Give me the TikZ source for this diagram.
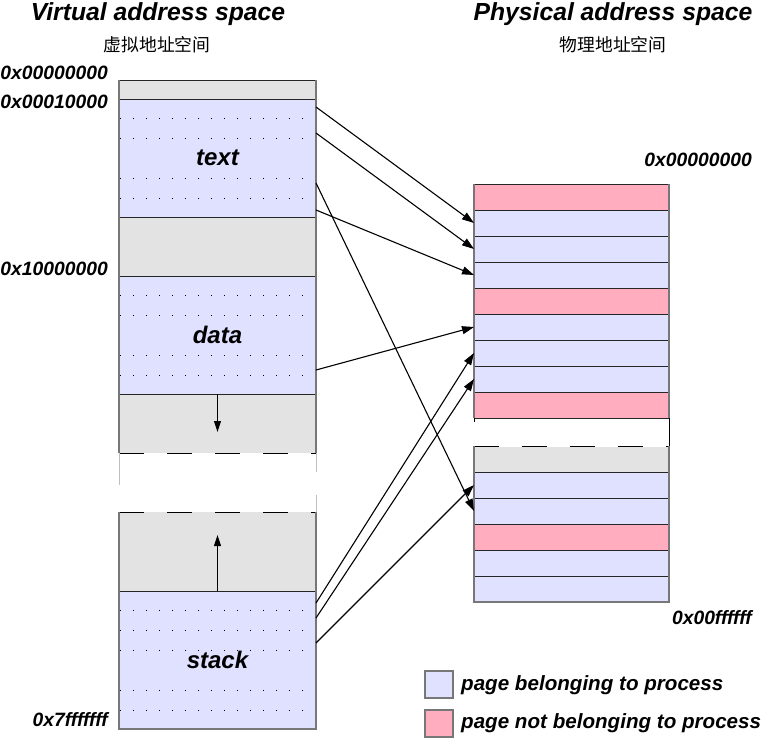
\documentclass[tikz,border=0pt]{standalone}
\usepackage{fontspec}
\setmainfont{Liberation Sans}
\newfontfamily\cjk{Noto Sans CJK SC}
\usetikzlibrary{arrows.meta}
\definecolor{pageown}{HTML}{E0E0FF}
\definecolor{pagenot}{HTML}{FFADBF}
\definecolor{unmapped}{HTML}{E3E3E3}
\definecolor{rim}{HTML}{777777}

\begin{document}
\begin{tikzpicture}[x=1pt, y=-1pt,
  seg/.style={minimum width=197pt, inner sep=0pt, outer sep=0pt, font=\fontsize{24}{28}\selectfont\bfseries\itshape},
  segline/.style={draw=black!85, line width=0.9pt},
  prow/.style={minimum width=195pt, minimum height=26pt, inner sep=0pt, outer sep=0pt, draw=black!85, line width=0.9pt},
  addr/.style={font=\fontsize{19.3}{22}\selectfont\bfseries\itshape, inner sep=0pt},
  heading/.style={font=\fontsize{24.7}{28}\selectfont\bfseries\itshape, inner sep=0pt},
  subheading/.style={font=\fontsize{17.8}{20}\selectfont\cjk, inner sep=0pt},
  keybox/.style={minimum width=28pt, minimum height=27pt, inner sep=0pt, draw=rim, line width=1.2pt},
  keytext/.style={font=\fontsize{20.6}{24}\selectfont\bfseries\itshape, inner sep=0pt, anchor=west},
  map/.style={-{Triangle[length=12pt,width=8pt]}, line width=1.1pt},
  growarrow/.style={-{Triangle[length=11pt,width=7pt]}, line width=1.1pt},
  brk/.style={line width=1pt, dash pattern=on 25pt off 23pt}
]
\useasboundingbox (0,0) rectangle (762,739);

% headings
\node[heading] (vtitle) at (158,14) {Virtual address space};
\node[subheading] (vsub) at (157,45) {虚拟地址空间};
\node[heading] (ptitle) at (613,14) {Physical address space};
\node[subheading] (psub) at (613,45) {物理地址空间};

% virtual address space
\node[seg, fill=unmapped, minimum height=59pt] (vheap) at (217.5,423.5) {};
\node[seg, fill=unmapped, minimum height=79pt] (vfree) at (217.5,551.5) {};
\node[seg, segline, fill=unmapped, minimum height=19pt] (vnull) at (217.5,89.5) {};
\node[seg, segline, fill=pageown, minimum height=118pt] (vtext) at (217.5,158) {text};
\node[seg, segline, fill=unmapped, minimum height=59pt] (vhole) at (217.5,246.5) {};
\node[seg, segline, fill=pageown, minimum height=118pt] (vdata) at (217.5,335) {data};
\node[seg, segline, fill=pageown, minimum height=138pt] (vstack) at (217.5,660) {stack};

\foreach \top/\rows in {99/{19,39,79,99}, 276/{19,39,79,99}, 591/{19,39,59,99,119}}
  \foreach \r in \rows
    \foreach \k in {0,...,15}
      \fill ({119.5+13*\k},{\top+\r-0.5}) rectangle ++(1.1,1.1);

\draw[brk] (vheap.south west) -- (vheap.south east);
\draw[brk] (vfree.north west) -- (vfree.north east);
\draw[black!25] (vheap.south west) -- ++(0,32);
\draw[black!25] (vheap.south east) -- ++(0,19);
\draw[black!25] (vfree.north east) -- ++(0,-17);
\draw[rim, line width=1.6pt] (vnull.north west) -- (vheap.south west);
\draw[rim, line width=1.6pt] (vnull.north east) -- (vheap.south east);
\draw[rim, line width=1.6pt] (vfree.north west) -- (vstack.south west) -- (vstack.south east) -- (vfree.north east);

\draw[growarrow] (vheap.north) -- ++(0,38);
\draw[growarrow] (vstack.north) -- ++(0,-56);

% physical address space
\foreach \i/\c in {1/pagenot,2/pageown,3/pageown,4/pageown,5/pagenot,6/pageown,7/pageown,8/pageown,9/pagenot}
  \node[prow, fill=\c] (p\i) at (571.5,{171+26*\i}) {};
\foreach \i/\c in {1/unmapped,2/pageown,3/pageown,4/pagenot,5/pageown,6/pageown}
  \node[prow, fill=\c] (q\i) at (571.5,{433+26*\i}) {};

\draw[white, line width=1.2pt] (q1.north west) -- (q1.north east);
\draw[brk] (q1.north west) -- (q1.north east);
\draw[line width=1pt] (p9.south east) -- (q1.north east);
\draw[line width=1pt] (p9.south west) -- ++(0,4);
\draw[rim, line width=1.6pt] (p1.north west) -- (p9.south west);
\draw[rim, line width=1.6pt] (p1.north east) -- (p9.south east);
\draw[rim, line width=1.6pt] (q1.north west) -- (q6.south west) -- (q6.south east) -- (q1.north east);

% addresses
\node[addr, anchor=east] (a0) at (108,73) {0x00000000};
\node[addr, anchor=east] (a1) at (108,102) {0x00010000};
\node[addr, anchor=east] (a2) at (108,269) {0x10000000};
\node[addr, anchor=east] (a3) at (108,720) {0x7fffffff};
\node[addr, anchor=east] (b0) at (752,160) {0x00000000};
\node[addr, anchor=east] (b1) at (752,618) {0x00ffffff};

% page mappings
\coordinate (t1) at (316,107);
\coordinate (t2) at (316,133);
\coordinate (t3) at (316,183);
\coordinate (t4) at (316,210);
\coordinate (d1) at (316,370);
\coordinate (s1) at (316,603);
\coordinate (s2) at (316,618);
\coordinate (s3) at (316,643);
\draw[map] (t1) -- (p2.west);
\draw[map] (t2) -- (p3.west);
\draw[map] (t4) -- (p4.west);
\draw[map] (t3) -- (q3.west);
\draw[map] (d1) -- (p6.west);
\draw[map] (s1) -- (p7.west);
\draw[map] (s2) -- (p8.west);
\draw[map] (s3) -- (q2.west);

% legend
\node[keybox, fill=pageown] (kown) at (439,684.5) {};
\node[keytext] (kowntext) at (461,685) {page belonging to process};
\node[keybox, fill=pagenot] (knot) at (439,723.5) {};
\node[keytext] (knottext) at (461,723) {page not belonging to process};
\end{tikzpicture}
\end{document}
